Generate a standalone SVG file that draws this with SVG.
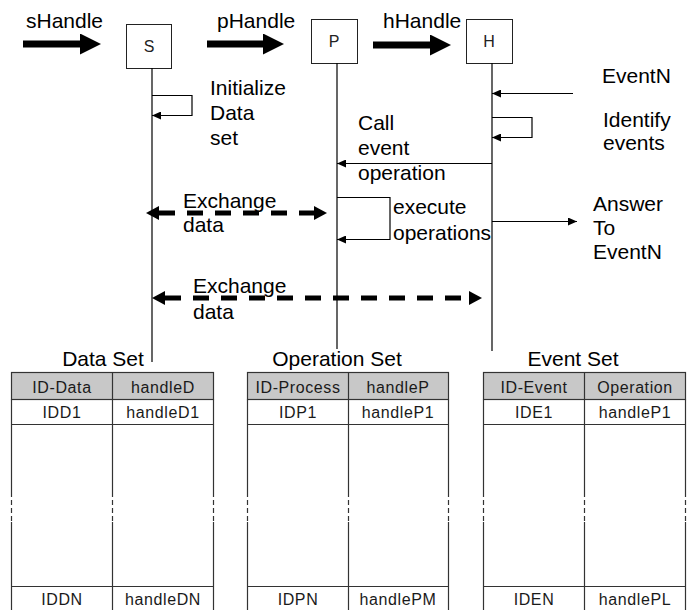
<svg xmlns="http://www.w3.org/2000/svg" width="691" height="610" viewBox="0 0 691 610">
<style>
text{font-family:"Liberation Sans",Arial,sans-serif;fill:#000}
.lbl{font-size:21px}
.boxt{font-size:16px;text-anchor:middle;fill:#222}
.title{font-size:21px;text-anchor:middle}
.cell{font-size:16px;text-anchor:middle;fill:#1a1a1a;letter-spacing:0.6px}
.box{fill:#fff;stroke:#222;stroke-width:1}
.life{stroke:#000;stroke-width:1.2;fill:none}
.thin{stroke:#000;stroke-width:1.2;fill:none;marker-end:url(#ah)}
.loop{stroke:#000;stroke-width:1.2;fill:none;marker-end:url(#ah)}
.thick{stroke:#000;stroke-width:7;marker-end:url(#bh)}
.dash{stroke:#000;stroke-width:5;stroke-dasharray:16 12;marker-start:url(#dh);marker-end:url(#dh)}
.tl{stroke:#333;stroke-width:1.2;fill:none}
.td{stroke:#333;stroke-width:1.2;fill:none;stroke-dasharray:5 3}
.hdr{fill:#c8c8c8;stroke:#333;stroke-width:1.2}
</style>
<defs>
<marker id="ah" markerUnits="userSpaceOnUse" markerWidth="9" markerHeight="8" refX="9" refY="4" orient="auto"><path d="M0,0 L9,4 L0,8 z" fill="#000"/></marker>
<marker id="bh" markerUnits="userSpaceOnUse" markerWidth="21" markerHeight="21" refX="0" refY="10.5" orient="auto"><path d="M0,0 L21,10.5 L0,21 z" fill="#000"/></marker>
<marker id="dh" markerUnits="userSpaceOnUse" markerWidth="13" markerHeight="14" refX="0" refY="7" orient="auto-start-reverse"><path d="M0,0 L13,7 L0,14 z" fill="#000"/></marker>
</defs>
<rect width="691" height="610" fill="#fff"/>

<g id="node-S">
<rect class="box" x="126.5" y="24.5" width="45" height="44"/>
<text class="boxt" x="149" y="52">S</text>
</g>
<g id="node-P">
<rect class="box" x="311.5" y="19.5" width="46" height="44"/>
<text class="boxt" x="334" y="47">P</text>
</g>
<g id="node-H">
<rect class="box" x="466.5" y="19.5" width="46" height="44"/>
<text class="boxt" x="489" y="47">H</text>
</g>

<g id="lifelines">
<line class="life" x1="152" y1="68" x2="152" y2="362"/>
<line class="life" x1="337" y1="63" x2="337" y2="349"/>
<line class="life" x1="492" y1="63" x2="492" y2="351"/>
</g>

<g id="connectors">
<line class="thick" x1="23" y1="44" x2="80" y2="44"/>
<line class="thick" x1="207" y1="44" x2="263" y2="44"/>
<line class="thick" x1="373" y1="45" x2="430" y2="45"/>
<polyline class="loop" points="152,95.5 192,95.5 192,115.5 152,115.5"/>
<line class="thin" x1="573" y1="93.5" x2="492" y2="93.5"/>
<polyline class="loop" points="492,117.5 532,117.5 532,137.5 492,137.5"/>
<line class="thin" x1="492" y1="163.5" x2="337" y2="163.5"/>
<polyline class="loop" points="337,197.5 390,197.5 390,239.5 337,239.5"/>
<line class="thin" x1="492" y1="221.5" x2="577" y2="221.5"/>
<line class="dash" x1="159" y1="213" x2="314" y2="213"/>
<line class="dash" x1="165" y1="298" x2="469" y2="298"/>
</g>

<g id="labels">
<text class="lbl" x="26" y="28">sHandle</text>
<text class="lbl" x="217" y="28">pHandle</text>
<text class="lbl" x="383" y="28">hHandle</text>
<text class="lbl" x="210" y="95">Initialize</text>
<text class="lbl" x="210" y="120">Data</text>
<text class="lbl" x="210" y="145">set</text>
<text class="lbl" x="602" y="83">EventN</text>
<text class="lbl" x="603" y="127">Identify</text>
<text class="lbl" x="603" y="150">events</text>
<text class="lbl" x="358" y="130">Call</text>
<text class="lbl" x="358" y="155">event</text>
<text class="lbl" x="358" y="180">operation</text>
<text class="lbl" x="393" y="214">execute</text>
<text class="lbl" x="393" y="240">operations</text>
<text class="lbl" x="593" y="211">Answer</text>
<text class="lbl" x="593" y="235">To</text>
<text class="lbl" x="593" y="259">EventN</text>
<text class="lbl" x="183" y="208">Exchange</text>
<text class="lbl" x="183" y="232">data</text>
<text class="lbl" x="193" y="293">Exchange</text>
<text class="lbl" x="193" y="319">data</text>
</g>

<g id="table-data">
<text class="title" x="103" y="366">Data Set</text>
<rect class="hdr" x="11.5" y="372.5" width="202" height="27"/>
<path class="tl" d="M11.5,399.5 V492 M112.5,372.5 V492 M213.5,399.5 V492 M11.5,522 V610 M112.5,522 V610 M213.5,522 V610 M11.5,424.5 H213.5 M11.5,586.5 H213.5"/>
<path class="td" d="M11.5,492 V522 M112.5,492 V522 M213.5,492 V522"/>
<text class="cell" x="62" y="393">ID-Data</text>
<text class="cell" x="163" y="393">handleD</text>
<text class="cell" x="62" y="418">IDD1</text>
<text class="cell" x="163" y="418">handleD1</text>
<text class="cell" x="62" y="605">IDDN</text>
<text class="cell" x="163" y="605">handleDN</text>
</g>

<g id="table-operation">
<text class="title" x="337" y="366">Operation Set</text>
<rect class="hdr" x="247.5" y="372.5" width="201" height="27"/>
<path class="tl" d="M247.5,399.5 V492 M348.5,372.5 V492 M448.5,399.5 V492 M247.5,522 V610 M348.5,522 V610 M448.5,522 V610 M247.5,424.5 H448.5 M247.5,586.5 H448.5"/>
<path class="td" d="M247.5,492 V522 M348.5,492 V522 M448.5,492 V522"/>
<text class="cell" x="298" y="393">ID-Process</text>
<text class="cell" x="398" y="393">handleP</text>
<text class="cell" x="298" y="418">IDP1</text>
<text class="cell" x="398" y="418">handleP1</text>
<text class="cell" x="298" y="605">IDPN</text>
<text class="cell" x="398" y="605">handlePM</text>
</g>

<g id="table-event">
<text class="title" x="573" y="366">Event Set</text>
<rect class="hdr" x="483.5" y="372.5" width="202" height="27"/>
<path class="tl" d="M483.5,399.5 V492 M584.5,372.5 V492 M685.5,399.5 V492 M483.5,522 V610 M584.5,522 V610 M685.5,522 V610 M483.5,424.5 H685.5 M483.5,586.5 H685.5"/>
<path class="td" d="M483.5,492 V522 M584.5,492 V522 M685.5,492 V522"/>
<text class="cell" x="534" y="393">ID-Event</text>
<text class="cell" x="635" y="393">Operation</text>
<text class="cell" x="534" y="418">IDE1</text>
<text class="cell" x="635" y="418">handleP1</text>
<text class="cell" x="534" y="605">IDEN</text>
<text class="cell" x="635" y="605">handlePL</text>
</g>
</svg>
